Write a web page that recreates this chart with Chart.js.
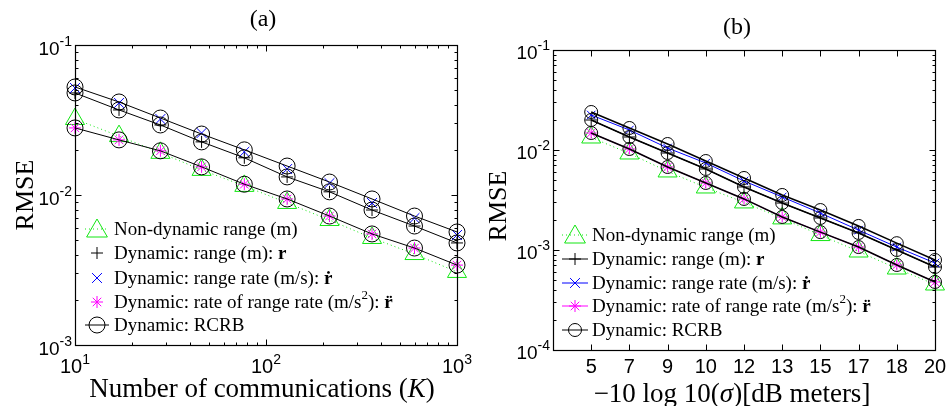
<!DOCTYPE html>
<html>
<head>
<meta charset="utf-8">
<script src="https://cdn.jsdelivr.net/npm/chart.js@4.4.1/dist/chart.umd.min.js"></script>
<style>
  html, body { margin: 0; padding: 0; background: #fff; }
  #wrap { position: relative; width: 949px; height: 406px; overflow: hidden; }
  canvas { position: absolute; top: 0; }
</style>
</head>
<body>
<div id="wrap">
  <canvas id="chartA" width="474" height="406" style="left:0"></canvas>
  <canvas id="chartB" width="475" height="406" style="left:474px"></canvas>
</div>
<script>
// (a) RMSE versus number of communications K
const kValues   = [10, 17, 28, 46, 77, 129, 215, 359, 599, 1000];
const nonDynA   = [0.0321, 0.0247, 0.0191, 0.0147, 0.0115, 0.00885, 0.00681, 0.00517, 0.00404, 0.00307];
const rangeA    = [0.0479, 0.0369, 0.0293, 0.0226, 0.0177, 0.0132, 0.0105, 0.00794, 0.00621, 0.00479];
const rateA     = [0.0517, 0.0411, 0.0321, 0.0259, 0.0194, 0.0149, 0.0120, 0.00885, 0.00702, 0.00541];
const accelA    = [0.0280, 0.0233, 0.0197, 0.0154, 0.0118, 0.00941, 0.00724, 0.00550, 0.00443, 0.00341];
const crbRateA  = [0.0525, 0.0417, 0.0326, 0.0255, 0.0200, 0.0156, 0.0122, 0.00941, 0.00724, 0.00567];
const crbRangeA = [0.0479, 0.0369, 0.0293, 0.0226, 0.0177, 0.0132, 0.0105, 0.00794, 0.00621, 0.00479];
const crbAccelA = [0.0280, 0.0233, 0.0197, 0.0154, 0.0118, 0.00941, 0.00724, 0.00550, 0.00443, 0.00341];
const xDecadesA = [1, 2, 3];
const yDecadesA = [-3, -2, -1];

// (b) RMSE versus noise level, equally spaced categories
const noiseLabels = ['5', '7', '9', '10', '12', '13', '15', '17', '18', '20'];
const nonDynB   = [0.01334, 0.00923, 0.00610, 0.00422, 0.00299, 0.00207, 0.00141, 0.000966, 0.000653, 0.000452];
const rangeB    = [0.01995, 0.01349, 0.00933, 0.00646, 0.00427, 0.00295, 0.00209, 0.00148, 0.00100, 0.000676];
const rateB     = [0.02239, 0.01585, 0.01047, 0.00741, 0.00490, 0.00339, 0.00234, 0.00158, 0.00107, 0.000741];
const accelB    = [0.01479, 0.01023, 0.00676, 0.00468, 0.00324, 0.00214, 0.00151, 0.00107, 0.000708, 0.000479];
const crbRateB  = [0.02399, 0.01660, 0.01148, 0.00776, 0.00525, 0.00355, 0.00251, 0.00174, 0.00117, 0.000794];
const crbRangeB = [0.01995, 0.01349, 0.00933, 0.00646, 0.00427, 0.00295, 0.00209, 0.00148, 0.00100, 0.000676];
const crbAccelB = [0.01479, 0.01023, 0.00676, 0.00468, 0.00324, 0.00214, 0.00151, 0.00107, 0.000708, 0.000479];
const yDecadesB = [-4, -3, -2, -1];

const GREEN = '#12e612', BLUE = '#0000ff', MAGENTA = '#ff00ff', BLACK = '#000000';
const serif = '"Liberation Serif", "Times New Roman", serif';
const sans = '"Liberation Sans", Arial, sans-serif';

const legendRows = [
  { style: 'triangle', color: GREEN, dotted: true, parts: [{ t: 'Non-dynamic range (m)' }] },
  { style: 'cross', color: BLACK, parts: [{ t: 'Dynamic: range (m): ' }, { t: 'r', bold: true }] },
  { style: 'crossRot', color: BLUE, parts: [{ t: 'Dynamic: range rate (m/s): ' }, { t: 'r\u0307', bold: true }] },
  { style: 'star', color: MAGENTA, parts: [{ t: 'Dynamic: rate of range rate (m/s' }, { t: '2', sup: true }, { t: '): ' }, { t: 'r\u0308', bold: true }] },
  { style: 'circle', color: BLACK, parts: [{ t: 'Dynamic: RCRB' }] }
];

function pts(xs, ys) { return xs.map((x, i) => ({ x: x, y: ys[i] })); }
const idx = noiseLabels.map((_, i) => i);

function markerSet(label, data, style, color, r, line, lw, dash) {
  return {
    label: label, data: data, showLine: line, borderColor: color, borderWidth: lw,
    borderDash: dash || [], pointStyle: style, pointRadius: r, pointHoverRadius: r,
    pointBorderColor: color, pointBackgroundColor: 'rgba(0,0,0,0)', pointBorderWidth: 1,
    clip: false, fill: false
  };
}

const datasetsA = [
  markerSet('crb rate', pts(kValues, crbRateA), 'circle', BLACK, 8, true, 1),
  markerSet('crb range', pts(kValues, crbRangeA), 'circle', BLACK, 8, true, 1),
  markerSet('crb accel', pts(kValues, crbAccelA), 'circle', BLACK, 8, true, 1),
  markerSet('rate', pts(kValues, rateA), 'crossRot', BLUE, 7, false, 1),
  markerSet('range', pts(kValues, rangeA), 'cross', BLACK, 6, false, 1),
  markerSet('accel', pts(kValues, accelA), 'star', MAGENTA, 6, false, 1),
  markerSet('non-dynamic', pts(kValues, nonDynA), 'triangle', GREEN, 11, true, 1, [1, 3])
];

const datasetsB = [
  markerSet('crb rate', pts(idx, crbRateB), 'circle', BLACK, 6.5, true, 1.5),
  markerSet('crb range', pts(idx, crbRangeB), 'circle', BLACK, 6.5, true, 1.5),
  markerSet('crb accel', pts(idx, crbAccelB), 'circle', BLACK, 6.5, true, 1.5),
  markerSet('rate', pts(idx, rateB), 'crossRot', BLUE, 6, true, 1),
  markerSet('range', pts(idx, rangeB), 'cross', BLACK, 6, true, 1),
  markerSet('accel', pts(idx, accelB), 'star', MAGENTA, 5.5, true, 1),
  markerSet('non-dynamic', pts(idx, nonDynB), 'triangle', GREEN, 11, true, 1, [1, 3])
];

// draw a run of text pieces (plain / bold / italic / superscript) starting at x
function drawParts(ctx, parts, x, y, size, align, family, supScale) {
  let w = 0;
  const items = parts.map(p => {
    const fs = p.sup ? Math.round(size * (supScale || 0.68)) : size;
    const font = (p.italic ? 'italic ' : '') + (p.bold ? 'bold ' : '') + fs + 'px ' + (p.family || family || serif);
    ctx.font = font;
    const pw = ctx.measureText(p.t).width;
    w += pw;
    return { p: p, font: font, pw: pw };
  });
  let cx = align === 'center' ? x - w / 2 : align === 'right' ? x - w : x;
  ctx.textAlign = 'left';
  ctx.textBaseline = 'alphabetic';
  items.forEach(it => {
    ctx.font = it.font;
    ctx.fillText(it.p.t, cx, y - (it.p.sup ? size * 0.45 : 0));
    cx += it.pw;
  });
}

function logTicks(decades) {
  const out = [];
  for (let d = decades[0]; d <= decades[decades.length - 1]; d++) {
    out.push({ v: Math.pow(10, d), major: true });
    if (d < decades[decades.length - 1]) {
      for (let m = 2; m <= 9; m++) out.push({ v: m * Math.pow(10, d), major: false });
    }
  }
  return out;
}

const panels = {
  chartA: {
    title: '(a)', titleX: 263, titleY: 26, titleSize: 24,
    yTitleX: 24, yTitleY: 195,
    xTitle: [{ t: 'Number of communications (' }, { t: 'K', italic: true }, { t: ')' }], xTitleX: 262, xTitleY: 397,
    xTicks: logTicks(xDecadesA),
    xLabels: xDecadesA.map(e => ({ v: Math.pow(10, e), parts: [{ t: '10' }, { t: String(e), sup: true }] })),
    xLabelY: 373, xLabelSize: 20,
    yTicks: logTicks(yDecadesA),
    yLabels: yDecadesA.map(e => ({ v: Math.pow(10, e), parts: [{ t: '10' }, { t: '-' + (-e), sup: true }] })),
    yLabelRight: 72, yLabelDy: 10, yLabelSize: 19,
    legend: { markerX: 97, lineFrom: 85, lineTo: 109, textX: 114, rows: [229, 253, 278, 302, 325], lines: false, triR: 12, circR: 8 }
  },
  chartB: {
    title: '(b)', titleX: 263, titleY: 34, titleSize: 24,
    yTitleX: 23, yTitleY: 206,
    xTitle: [{ t: '\u221210 log 10(' }, { t: '\u03c3', italic: true }, { t: ')[dB meters]' }], xTitleX: 258, xTitleY: 402,
    xTicks: idx.map(i => ({ v: i, major: true })),
    xLabels: idx.map(i => ({ v: i, parts: [{ t: noiseLabels[i] }] })),
    xLabelY: 373, xLabelSize: 20,
    yTicks: logTicks(yDecadesB),
    yLabels: yDecadesB.map(e => ({ v: Math.pow(10, e), parts: [{ t: '10' }, { t: '-' + (-e), sup: true }] })),
    yLabelRight: 76, yLabelDy: 9, yLabelSize: 19,
    legend: { markerX: 101, lineFrom: 88, lineTo: 114, textX: 118, rows: [235, 259, 283, 306, 330], lines: true, triR: 12, circR: 6.5 }
  }
};

const framePlugin = {
  id: 'frame',
  afterDraw(chart) {
    const spec = panels[chart.canvas.id];
    const ctx = chart.ctx;
    const a = chart.chartArea;
    const xs = chart.scales.x, ys = chart.scales.y;
    const L = Math.round(a.left) + 0.5, R = Math.round(a.right) + 0.5;
    const T = Math.round(a.top) + 0.5, B = Math.round(a.bottom) + 0.5;
    ctx.save();
    ctx.strokeStyle = BLACK;
    ctx.fillStyle = BLACK;
    ctx.lineWidth = 1;
    ctx.setLineDash([]);

    // inward ticks on all four sides
    ctx.beginPath();
    spec.xTicks.forEach(t => {
      const px = Math.round(xs.getPixelForValue(t.v)) + 0.5;
      const len = t.major ? 6 : 3;
      ctx.moveTo(px, B); ctx.lineTo(px, B - len);
      ctx.moveTo(px, T); ctx.lineTo(px, T + len);
    });
    spec.yTicks.forEach(t => {
      const py = Math.round(ys.getPixelForValue(t.v)) + 0.5;
      const len = t.major ? 6 : 3;
      ctx.moveTo(L, py); ctx.lineTo(L + len, py);
      ctx.moveTo(R, py); ctx.lineTo(R - len, py);
    });
    ctx.stroke();
    ctx.lineWidth = 1.2;
    ctx.strokeRect(L, T, R - L, B - T);

    // tick labels
    spec.xLabels.forEach(l => {
      drawParts(ctx, l.parts, xs.getPixelForValue(l.v), spec.xLabelY, spec.xLabelSize, 'center', sans, 0.72);
    });
    spec.yLabels.forEach(l => {
      drawParts(ctx, l.parts, spec.yLabelRight, ys.getPixelForValue(l.v) + spec.yLabelDy, spec.yLabelSize, 'right', sans, 0.72);
    });

    // titles
    drawParts(ctx, [{ t: spec.title }], spec.titleX, spec.titleY, spec.titleSize, 'center');
    drawParts(ctx, spec.xTitle, spec.xTitleX, spec.xTitleY, 27, 'center');
    ctx.save();
    ctx.translate(spec.yTitleX, spec.yTitleY);
    ctx.rotate(-Math.PI / 2);
    drawParts(ctx, [{ t: 'RMSE' }], 0, 9, 26, 'center');
    ctx.restore();

    // legend: sample line, hollow marker, rich label
    const lg = spec.legend;
    legendRows.forEach((row, i) => {
      const y = lg.rows[i];
      ctx.strokeStyle = row.color;
      ctx.fillStyle = 'rgba(0,0,0,0)';
      ctx.lineWidth = 1;
      const showLine = row.style === 'circle' || row.dotted || lg.lines;
      if (showLine) {
        ctx.setLineDash(row.dotted ? [1, 3] : []);
        ctx.beginPath();
        ctx.moveTo(lg.lineFrom, y); ctx.lineTo(lg.lineTo, y);
        ctx.stroke();
        ctx.setLineDash([]);
      }
      let r = 6;
      if (row.style === 'triangle') r = lg.triR;
      if (row.style === 'circle') r = lg.circR;
      if (row.style === 'crossRot') r = 7;
      Chart.helpers.drawPoint(ctx, { pointStyle: row.style, radius: r, rotation: 0, borderWidth: 1 }, lg.markerX, row.style === 'triangle' ? y + 2 : y);
      ctx.fillStyle = BLACK;
      drawParts(ctx, row.parts, lg.textX, y + 6, 19, 'left');
    });
    ctx.restore();
  }
};

function makeChart(id, datasets, xScale, yScale, padding) {
  return new Chart(document.getElementById(id).getContext('2d'), {
    type: 'scatter',
    data: { datasets: datasets },
    options: {
      responsive: false,
      animation: false,
      devicePixelRatio: 1,
      layout: { padding: padding },
      plugins: { legend: { display: false }, tooltip: { enabled: false } },
      elements: { line: { tension: 0 } },
      scales: { x: xScale, y: yScale }
    },
    plugins: [framePlugin]
  });
}

makeChart('chartA', datasetsA,
  { type: 'logarithmic', min: 10, max: 1000, display: false },
  { type: 'logarithmic', min: 0.001, max: 0.1, display: false },
  { left: 75, top: 45, right: 17, bottom: 61 });

makeChart('chartB', datasetsB,
  { type: 'linear', min: -1, max: 9, display: false },
  { type: 'logarithmic', min: 0.0001, max: 0.1, display: false },
  { left: 79, top: 50, right: 14, bottom: 56 });
</script>
</body>
</html>
